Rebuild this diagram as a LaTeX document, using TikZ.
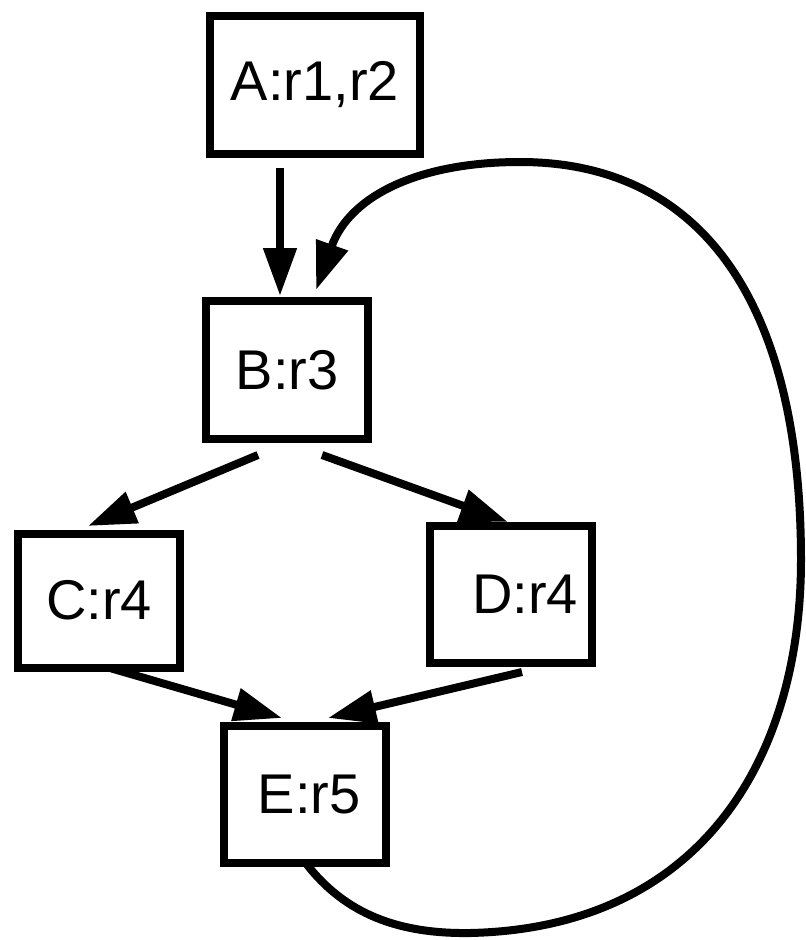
\documentclass[tikz,border=0pt]{standalone}
\usepackage{fontspec}
\setmainfont{Liberation Sans}
\usetikzlibrary{positioning,arrows.meta}

\begin{document}
\begin{tikzpicture}[x=1pt,y=-1pt]
	\tikzset{
	    block/.style={draw, line width=8pt, minimum width=162pt, minimum height=138pt,
	        inner sep=0pt, font=\fontsize{56}{60}\selectfont},
	    edge/.style={line width=8pt, -{Triangle[length=48pt,width=32pt]}}
	}
	\useasboundingbox (0,0) rectangle (806,940);

	\node[block, minimum width=210pt] (A) at (315,84.5) {A:r1,r2\hspace{16pt}};
	\node[block] (B) at (287,370) {B:r3};
	\node[block, minimum height=134pt] (C) at (99,600.5) {C:r4\hspace{26pt}};
	\node[block, minimum height=137pt] (D) at (511,594) {\hspace{28pt}D:r4};
	\node[block, minimum height=137pt] (E) at (305,794) {\hspace{8pt}E:r5};

	\coordinate (a1) at (280,168);
	\coordinate (b1) at (280,296);
	\coordinate (b2) at (258,455);
	\coordinate (b3) at (322,455);
	\coordinate (c1) at (88,526);
	\coordinate (c2) at (110,668);
	\coordinate (d1) at (508,522);
	\coordinate (d2) at (522,672);
	\coordinate (e1) at (282,718);
	\coordinate (e2) at (328,718);
	\coordinate (e3) at (305,862);
	\coordinate (b4) at (316,290);

	\draw[edge] (a1) -- (b1);
	\draw[edge] (b2) -- (c1);
	\draw[edge] (b3) -- (d1);
	\draw[edge] (c2) -- (e1);
	\draw[edge] (d2) -- (e2);
	% loop back from E to B
	\draw[edge] (e3) .. controls (345,915) and (400,934) .. (470,933)
		.. controls (700,928) and (801,760) .. (801,560)
		.. controls (801,300) and (700,162) .. (520,162)
		.. controls (420,162) and (350,195) .. (b4);
\end{tikzpicture}
\end{document}
